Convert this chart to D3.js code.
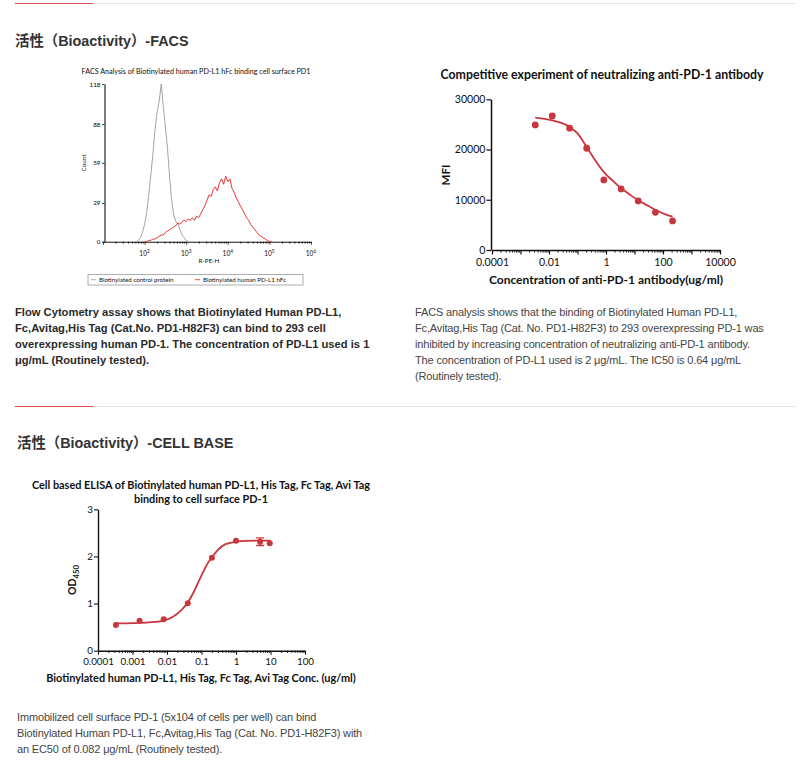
<!DOCTYPE html>
<html>
<head>
<meta charset="utf-8">
<script src="https://cdn.jsdelivr.net/npm/d3@7"></script>
<style>
  body { margin: 0; background: #fff; }
  .heading { font-family: "Liberation Sans", "Noto Sans CJK SC", sans-serif; font-weight: bold; font-size: 14.4px; fill: #333; }
  .para { font-family: "Liberation Sans", Arial, sans-serif; font-size: 11px; letter-spacing: -0.15px; fill: #444; }
  .para.bold { font-weight: bold; font-size: 11.2px; letter-spacing: 0; fill: #2a2a2a; }
  .ct { font-family: Lato, "Open Sans", sans-serif; fill: #111; }
  .axis path, .axis line { stroke: #111; }
</style>
</head>
<body>
<script>

  // ---- FACS histogram (log10 of R-PE-H, count) ----
  const facsGreyLog = [1.80, 1.85, 1.90, 1.95, 2.00, 2.05, 2.10, 2.15, 2.20, 2.25, 2.30, 2.35, 2.40,
    2.45, 2.50, 2.55, 2.60, 2.65, 2.70, 2.75, 2.80, 2.85, 2.90, 2.95, 3.00, 3.05];
  const facsGreyCount = [0, 1, 3, 7, 13, 22, 35, 50, 66, 84, 97, 105, 118,
    101, 86, 70, 49, 31, 20, 15, 13, 9, 5, 3, 1, 0];

  const facsRedLog = [2.00, 2.05, 2.10, 2.15, 2.20, 2.25, 2.30, 2.35, 2.40, 2.45, 2.50, 2.55, 2.60, 2.65,
    2.70, 2.75, 2.80, 2.85, 2.90, 2.95, 3.00, 3.05, 3.10, 3.15, 3.20, 3.25, 3.30, 3.35, 3.40, 3.45,
    3.50, 3.55, 3.60, 3.65, 3.70, 3.75, 3.80, 3.85, 3.90, 3.95, 4.00, 4.05, 4.10, 4.15, 4.20, 4.25,
    4.30, 4.35, 4.40, 4.45, 4.50, 4.55, 4.60, 4.65, 4.70, 4.75, 4.80, 4.85, 4.90, 4.95, 5.00, 5.05];
  const facsRedCount = [0, 0, 1, 1, 2, 2, 3, 4, 5, 5, 7, 8, 9, 10,
    11, 12, 14, 13, 15, 16, 15, 17, 16, 18, 16, 19, 18, 21, 24, 27,
    31, 35, 34, 39, 41, 38, 44, 47, 43, 49, 45, 47, 40, 37, 33, 30,
    27, 24, 21, 18, 16, 13, 11, 9, 7, 5, 4, 3, 2, 1, 0, 0];

  const facsYTicks = [0, 29, 59, 88, 118];
  const facsXTicks = [2, 3, 4, 5, 6];   // powers of ten that carry a label
  const facsLegend = ["Biotinylated control protein", "Biotinylated human PD-L1 hFc"];

  // ---- competitive experiment ----
  const compConc = [0.0033, 0.013, 0.053, 0.21, 0.84, 3.4, 13.5, 54, 216];
  const compMfi = [24900, 26700, 24250, 20260, 13940, 12150, 9760, 7500, 5780];
  const compFitConc = [0.0033, 0.007, 0.013, 0.027, 0.053, 0.1, 0.21, 0.4, 0.84, 1.7, 3.4, 7, 13.5, 30, 54, 120, 216];
  const compFitMfi = [26350, 26100, 25800, 25300, 24500, 23200, 20500, 18000, 15500, 13800, 12300, 11000, 9900, 8800, 8000, 7100, 6630];
  const compYTicks = [0, 10000, 20000, 30000];
  const compXLabels = [0.0001, 0.01, 1, 100, 10000];

  // ---- cell based ELISA ----
  const cellConc = [0.00033, 0.0016, 0.0080, 0.040, 0.20, 1.0, 5.0, 9.5];
  const cellOd = [0.545, 0.637, 0.666, 1.005, 1.973, 2.334, 2.313, 2.28];
  const cellErr = [0, 0, 0, 0, 0, 0, 0.08, 0];
  const cellFitConc = [0.00033, 0.001, 0.003, 0.008, 0.015, 0.025, 0.04, 0.06, 0.1, 0.15, 0.2, 0.3, 0.5, 1, 2, 5, 10];
  const cellFitOd = [0.58, 0.585, 0.6, 0.64, 0.72, 0.85, 1.02, 1.25, 1.6, 1.85, 1.98, 2.14, 2.26, 2.31, 2.33, 2.335, 2.335];
  const cellYTicks = [0, 1, 2, 3];
  const cellXLabels = [0.0001, 0.001, 0.01, 0.1, 1, 10, 100];

  // ---- page text ----
  const para1 = [
    "Flow Cytometry assay shows that Biotinylated Human PD-L1,",
    "Fc,Avitag,His Tag (Cat.No. PD1-H82F3) can bind to 293 cell",
    "overexpressing human PD-1. The concentration of PD-L1 used is 1",
    "μg/mL (Routinely tested)."
  ];
  const para2 = [
    "FACS analysis shows that the binding of Biotinylated Human PD-L1,",
    "Fc,Avitag,His Tag (Cat. No. PD1-H82F3) to 293 overexpressing PD-1 was",
    "inhibited by increasing concentration of neutralizing anti-PD-1 antibody.",
    "The concentration of PD-L1 used is 2 μg/mL. The IC50 is 0.64 μg/mL",
    "(Routinely tested)."
  ];
  const para3 = [
    "Immobilized cell surface PD-1 (5x104 of cells per well) can bind",
    "Biotinylated Human PD-L1, Fc,Avitag,His Tag (Cat. No. PD1-H82F3) with",
    "an EC50 of 0.082 μg/mL (Routinely tested)."
  ];

  const RED = "#c8373d";

  const svg = d3.select("body")
    .append("svg")
    .attr("width", 800)
    .attr("height", 778);

  // minor log ticks (2..9 x 10^k) between two powers
  function minorTicks(p0, p1) {
    const out = [];
    for (let p = p0; p < p1; p++) {
      for (let d = 2; d <= 9; d++) out.push(d * Math.pow(10, p));
    }
    return out;
  }
  function decades(p0, p1) {
    return d3.range(p0, p1 + 1).map(p => Math.pow(10, p));
  }

  /////////////////////////
  // section dividers + headings

  function divider(y) {
    svg.append("line").attr("x1", 14).attr("x2", 796).attr("y1", y).attr("y2", y)
      .attr("stroke", "#e6e6e6").attr("stroke-width", 1);
    svg.append("line").attr("x1", 15).attr("x2", 93).attr("y1", y).attr("y2", y)
      .attr("stroke", "#d9534f").attr("stroke-width", 1);
  }
  divider(3.5);
  divider(406.5);

  svg.append("text").attr("class", "heading").attr("x", 15).attr("y", 45.5)
    .text("活性（Bioactivity）-FACS");
  svg.append("text").attr("class", "heading").attr("x", 17).attr("y", 447.5)
    .text("活性（Bioactivity）-CELL BASE");

  function paragraph(lines, x, y, cls) {
    svg.append("g").selectAll("text").data(lines).join("text")
      .attr("class", cls)
      .attr("x", x)
      .attr("y", (d, i) => y + i * 16)
      .text(d => d);
  }
  paragraph(para1, 15, 316, "para bold");
  paragraph(para2, 415, 316, "para");
  paragraph(para3, 17, 721, "para");

  /////////////////////////
  // FACS histogram

  const fx = d3.scaleLog().domain([10, 1e6]).range([103, 311]);
  const fy = d3.scaleLinear().domain([0, 118]).range([241.7, 84]);

  svg.append("text").attr("class", "ct")
    .attr("x", 196).attr("y", 74).attr("text-anchor", "middle")
    .style("font-size", "7.2px").attr("fill", "#222")
    .text("FACS Analysis of Biotinylated human PD-L1 hFc binding cell surface PD1");

  const fxAxis = svg.append("g").attr("class", "axis ct")
    .attr("transform", "translate(0,241.7)")
    .call(d3.axisBottom(fx).tickValues(decades(1, 6)).tickSize(3).tickSizeOuter(0).tickFormat(""));
  svg.append("g").attr("class", "axis")
    .attr("transform", "translate(0,241.7)")
    .call(d3.axisBottom(fx).tickValues(minorTicks(1, 6)).tickSize(1.8).tickSizeOuter(0).tickFormat(""))
    .select(".domain").remove();
  fxAxis.selectAll("line").attr("stroke-width", 0.8);
  fxAxis.select(".domain").attr("stroke-width", 1.1);

  svg.append("g").selectAll("text").data(facsXTicks).join("text")
    .attr("class", "ct")
    .attr("x", p => fx(Math.pow(10, p)))
    .attr("y", 256)
    .attr("text-anchor", "middle")
    .style("font-size", "6.6px")
    .each(function(p) {
      const t = d3.select(this);
      t.append("tspan").text("10");
      t.append("tspan").attr("dy", -2.8).style("font-size", "4.8px").text(p);
    });

  svg.append("text").attr("class", "ct").attr("x", 209).attr("y", 262.5)
    .attr("text-anchor", "middle").style("font-size", "6.3px").text("R-PE-H");

  const fyAxis = svg.append("g").attr("class", "axis ct")
    .attr("transform", "translate(104.5,0)")
    .call(d3.axisLeft(fy).tickValues(facsYTicks).tickSize(2.5).tickPadding(1.5).tickSizeOuter(0));
  fyAxis.selectAll("text").style("font-size", "6.3px");
  fyAxis.selectAll("line").attr("stroke-width", 0.8);
  fyAxis.select(".domain").attr("stroke-width", 1.1);

  svg.append("text").attr("class", "ct")
    .attr("transform", "translate(85.5,163) rotate(-90)")
    .attr("text-anchor", "middle").style("font-size", "6.3px").text("Count");

  const histLine = d3.line().x(d => fx(Math.pow(10, d[0]))).y(d => fy(d[1]));
  svg.append("path")
    .attr("d", histLine(d3.zip(facsGreyLog, facsGreyCount)))
    .attr("fill", "none").attr("stroke", "#9a9a9a").attr("stroke-width", 0.9);
  svg.append("path")
    .attr("d", histLine(d3.zip(facsRedLog, facsRedCount)))
    .attr("fill", "none").attr("stroke", "#e3201b").attr("stroke-width", 0.9);

  // legend
  const lg = svg.append("g");
  lg.append("rect").attr("x", 88).attr("y", 274.5).attr("width", 215).attr("height", 10.5)
    .attr("fill", "none").attr("stroke", "#777").attr("stroke-width", 0.6);
  const legendX = [91, 195];
  const legendColor = ["#9a9a9a", "#e3201b"];
  facsLegend.forEach((name, i) => {
    lg.append("line").attr("x1", legendX[i]).attr("x2", legendX[i] + 5)
      .attr("y1", 279.7).attr("y2", 279.7).attr("stroke", legendColor[i]).attr("stroke-width", 0.8);
    lg.append("text").attr("class", "ct").attr("x", legendX[i] + 8).attr("y", 282)
      .style("font-size", "6.2px").attr("fill", "#222").text(name);
  });

  /////////////////////////
  // Competitive experiment

  const cx = d3.scaleLog().domain([1e-4, 1e4]).range([492, 720]);
  const cy = d3.scaleLinear().domain([0, 30000]).range([250, 99.3]);

  svg.append("text").attr("class", "ct")
    .attr("x", 602).attr("y", 79).attr("text-anchor", "middle")
    .style("font-size", "12.3px").style("font-weight", "bold")
    .text("Competitive experiment of neutralizing anti-PD-1 antibody");

  const cxAxis = svg.append("g").attr("class", "axis ct")
    .attr("transform", "translate(0,250)")
    .call(d3.axisBottom(cx).tickValues(decades(-4, 4)).tickSize(4.5).tickPadding(4).tickSizeOuter(0)
      .tickFormat(d => compXLabels.includes(d) ? d3.format("~f")(d) : ""));
  cxAxis.selectAll("text").style("font-size", "10.6px").attr("fill", "#111");
  cxAxis.select(".domain").attr("stroke-width", 1.5);
  cxAxis.selectAll("line").attr("stroke-width", 1.2);
  svg.append("g").attr("class", "axis")
    .attr("transform", "translate(0,250)")
    .call(d3.axisBottom(cx).tickValues(minorTicks(-4, 4)).tickSize(2.5).tickSizeOuter(0).tickFormat(""))
    .call(g => g.select(".domain").remove())
    .selectAll("line").attr("stroke-width", 1);

  const cyAxis = svg.append("g").attr("class", "axis ct")
    .attr("transform", "translate(491,0)")
    .call(d3.axisLeft(cy).tickValues(compYTicks).tickSize(4.5).tickPadding(1).tickSizeOuter(0)
      .tickFormat(d3.format("d")));
  cyAxis.selectAll("text").style("font-size", "10.6px").attr("fill", "#111");
  cyAxis.select(".domain").attr("stroke-width", 1.5);
  cyAxis.selectAll("line").attr("stroke-width", 1.2);

  svg.append("text").attr("class", "ct")
    .attr("transform", "translate(450,175) rotate(-90)")
    .attr("text-anchor", "middle").style("font-size", "11.5px").style("font-weight", "bold").text("MFI");

  svg.append("text").attr("class", "ct")
    .attr("x", 606).attr("y", 283.5).attr("text-anchor", "middle")
    .style("font-size", "12px").style("font-weight", "bold")
    .text("Concentration of anti-PD-1 antibody(ug/ml)");

  svg.append("path")
    .attr("d", d3.line().curve(d3.curveMonotoneX).x(d => cx(d[0])).y(d => cy(d[1]))(d3.zip(compFitConc, compFitMfi)))
    .attr("fill", "none").attr("stroke", RED).attr("stroke-width", 1.8);

  svg.append("g").selectAll("circle").data(d3.zip(compConc, compMfi)).join("circle")
    .attr("cx", d => cx(d[0])).attr("cy", d => cy(d[1])).attr("r", 3.4).attr("fill", RED);

  /////////////////////////
  // Cell based ELISA

  const ex = d3.scaleLog().domain([1e-4, 100]).range([98, 305]);
  const ey = d3.scaleLinear().domain([0, 3]).range([650.7, 509.3]);

  svg.append("g").selectAll("text")
    .data(["Cell based ELISA of Biotinylated human PD-L1, His Tag, Fc Tag, Avi Tag", "binding to cell surface PD-1"])
    .join("text").attr("class", "ct")
    .attr("x", 201).attr("y", (d, i) => 489 + i * 13.5).attr("text-anchor", "middle")
    .style("font-size", "10.9px").style("font-weight", "bold")
    .text(d => d);

  const exAxis = svg.append("g").attr("class", "axis ct")
    .attr("transform", "translate(0,650.7)")
    .call(d3.axisBottom(ex).tickValues(cellXLabels).tickSize(4).tickPadding(3.5).tickSizeOuter(0)
      .tickFormat(d => d3.format("~f")(d)));
  exAxis.selectAll("text").style("font-size", "9.8px").attr("fill", "#111");
  exAxis.select(".domain").attr("stroke-width", 1.4);
  exAxis.selectAll("line").attr("stroke-width", 1.1);
  svg.append("g").attr("class", "axis")
    .attr("transform", "translate(0,650.7)")
    .call(d3.axisBottom(ex).tickValues(minorTicks(-4, 2)).tickSize(2.3).tickSizeOuter(0).tickFormat(""))
    .call(g => g.select(".domain").remove())
    .selectAll("line").attr("stroke-width", 0.9);

  const eyAxis = svg.append("g").attr("class", "axis ct")
    .attr("transform", "translate(98,0)")
    .call(d3.axisLeft(ey).tickValues(cellYTicks).tickSize(4).tickPadding(1).tickSizeOuter(0)
      .tickFormat(d3.format("d")));
  eyAxis.selectAll("text").style("font-size", "9.8px").attr("fill", "#111");
  eyAxis.select(".domain").attr("stroke-width", 1.4);
  eyAxis.selectAll("line").attr("stroke-width", 1.1);

  const odLabel = svg.append("text").attr("class", "ct")
    .attr("transform", "translate(76,580) rotate(-90)")
    .attr("text-anchor", "middle").style("font-size", "10.5px").style("font-weight", "bold");
  odLabel.append("tspan").text("OD");
  odLabel.append("tspan").attr("dy", 2.5).style("font-size", "7.8px").text("450");

  svg.append("text").attr("class", "ct")
    .attr("x", 201).attr("y", 681.5).attr("text-anchor", "middle")
    .style("font-size", "10.9px").style("font-weight", "bold")
    .text("Biotinylated human PD-L1, His Tag, Fc Tag, Avi Tag Conc. (ug/ml)");

  svg.append("path")
    .attr("d", d3.line().curve(d3.curveMonotoneX).x(d => ex(d[0])).y(d => ey(d[1]))(d3.zip(cellFitConc, cellFitOd)))
    .attr("fill", "none").attr("stroke", RED).attr("stroke-width", 1.8);

  const cellPts = d3.zip(cellConc, cellOd, cellErr);
  svg.append("g").selectAll("path").data(cellPts.filter(d => d[2] > 0)).join("path")
    .attr("d", d => {
      const x = ex(d[0]), y0 = ey(d[1] - d[2]), y1 = ey(d[1] + d[2]);
      return `M${x - 4},${y0}H${x + 4}M${x},${y0}V${y1}M${x - 4},${y1}H${x + 4}`;
    })
    .attr("fill", "none").attr("stroke", RED).attr("stroke-width", 1.4);
  svg.append("g").selectAll("circle").data(cellPts).join("circle")
    .attr("cx", d => ex(d[0])).attr("cy", d => ey(d[1])).attr("r", 3).attr("fill", RED);

</script>
</body>
</html>
